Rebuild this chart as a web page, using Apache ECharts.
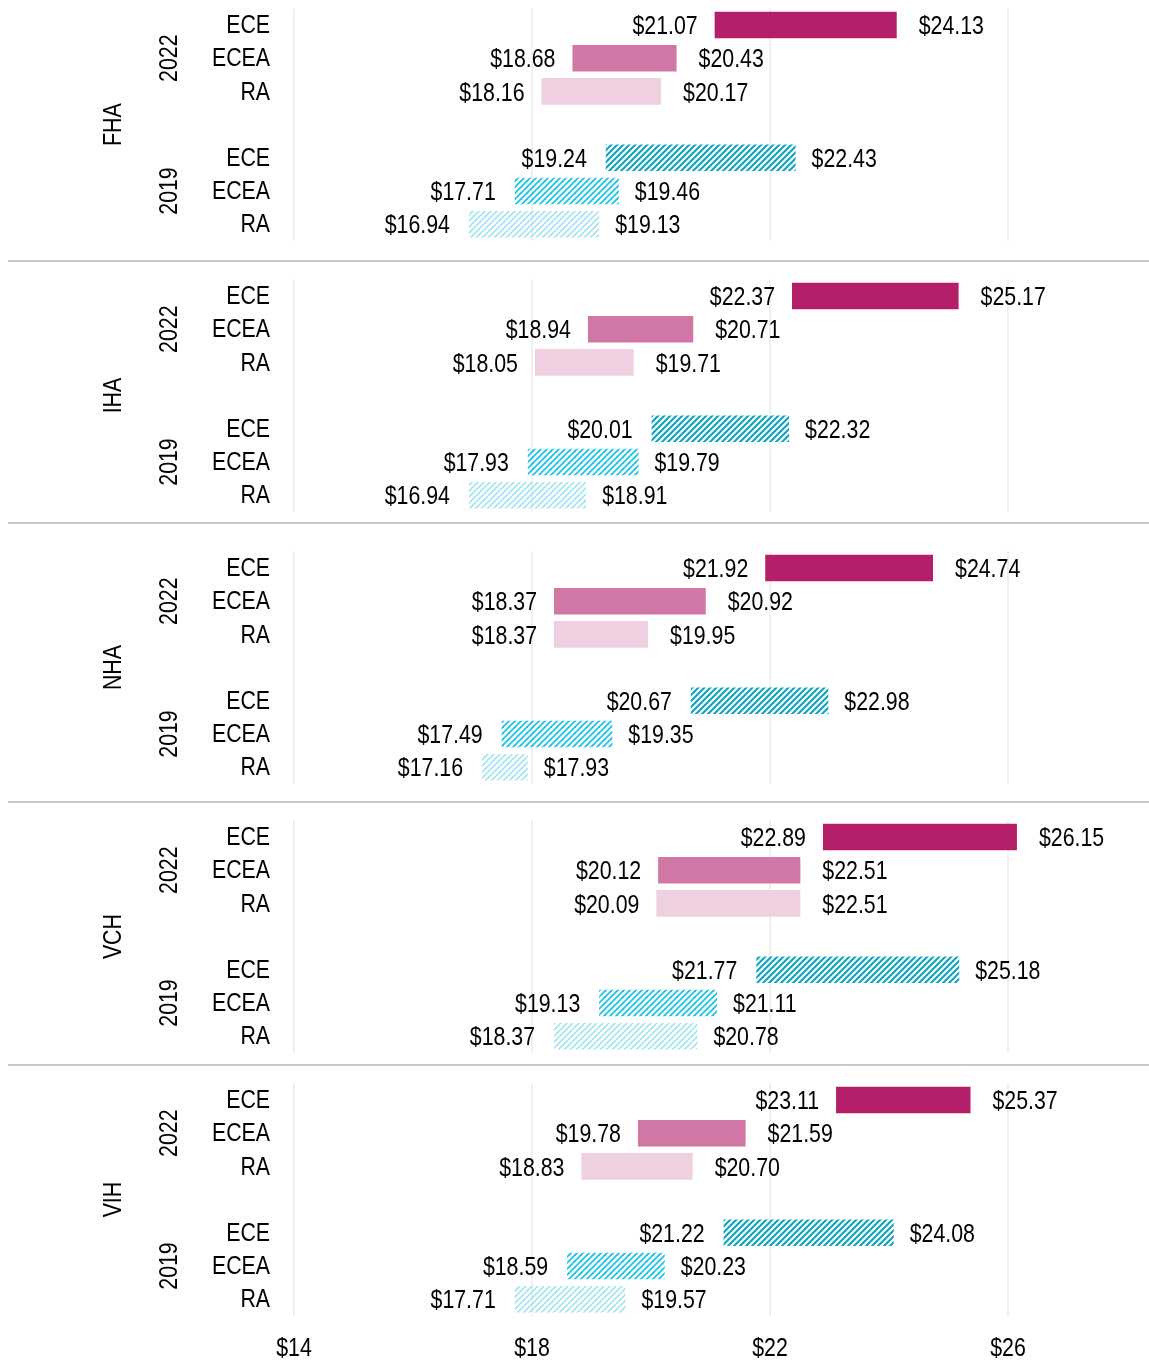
<!DOCTYPE html>
<html>
<head>
<meta charset="utf-8">
<script src="https://cdn.jsdelivr.net/npm/echarts@6/dist/echarts.min.js"></script>
<style>
  html, body { margin: 0; padding: 0; background: #fff; }
  #chart { width: 1149px; height: 1361px; }
</style>
</head>
<body>
<div id="chart"></div>
<script>
// regions (one panel each), years and measures
const panels = ["FHA", "IHA", "NHA", "VCH", "VIH"];
const years = ["2022", "2019"];
const measures = ["ECE", "ECEA", "RA"];

// low / high wage per region, same order as panels
const ece2022Low = [21.07, 22.37, 21.92, 22.89, 23.11];
const ece2022High = [24.13, 25.17, 24.74, 26.15, 25.37];
const ecea2022Low = [18.68, 18.94, 18.37, 20.12, 19.78];
const ecea2022High = [20.43, 20.71, 20.92, 22.51, 21.59];
const ra2022Low = [18.16, 18.05, 18.37, 20.09, 18.83];
const ra2022High = [20.17, 19.71, 19.95, 22.51, 20.70];

const ece2019Low = [19.24, 20.01, 20.67, 21.77, 21.22];
const ece2019High = [22.43, 22.32, 22.98, 25.18, 24.08];
const ecea2019Low = [17.71, 17.93, 17.49, 19.13, 18.59];
const ecea2019High = [19.46, 19.79, 19.35, 21.11, 20.23];
const ra2019Low = [16.94, 16.94, 17.16, 18.37, 17.71];
const ra2019High = [19.13, 18.91, 17.93, 20.78, 19.57];

const xTicks = [14, 18, 22, 26];

// ---- layout / style ----
// no narrow font installed, so Liberation Sans squeezed sideways stands in for Arial Narrow
const FONT = '"Liberation Sans", Arial, sans-serif';
const FS = 26;
const NARROW = 0.82;
const panelTop = [8.4, 279.4, 551.4, 820.4, 1083.4];
const panelHeight = 232.4;
const separatorY = [261, 523, 802, 1065];
const gridLeft = 294;
const gridRight = 22;

// rows of one panel: 3 bars for 2022, an empty row, 3 bars for 2019
const rowKeys = [];
years.forEach((y, yi) => {
    measures.forEach(m => rowKeys.push(m + "-" + y));
    if (yi === 0) rowKeys.push("gap");
});

const hatch = (color, lw) => {
    const c = document.createElement("canvas");
    c.width = 6;
    c.height = 6;
    const ctx = c.getContext("2d");
    ctx.strokeStyle = color;
    ctx.lineWidth = lw;
    for (const o of [-6, 0, 6]) {
        ctx.beginPath();
        ctx.moveTo(o - 1, 7);
        ctx.lineTo(o + 7, -1);
        ctx.stroke();
    }
    return { type: "pattern", image: c, repeat: "repeat" };
};

const rowFill = {
    "ECE-2022": "#b41f6a",
    "ECEA-2022": "#d177a6",
    "RA-2022": "#eed0e0",
    "ECE-2019": hatch("#10a3c1", 2.1),
    "ECEA-2019": hatch("#1cc2e8", 1.8),
    "RA-2019": hatch("#a4e3f2", 1.6)
};

const pairs = {
    "ECE-2022": [ece2022Low, ece2022High],
    "ECEA-2022": [ecea2022Low, ecea2022High],
    "RA-2022": [ra2022Low, ra2022High],
    "ECE-2019": [ece2019Low, ece2019High],
    "ECEA-2019": [ecea2019Low, ecea2019High],
    "RA-2019": [ra2019Low, ra2019High]
};

const panelData = pi =>
    rowKeys.filter(k => k !== "gap").map(k => [pairs[k][0][pi], pairs[k][1][pi], k]);

const label = (text, x, y, align, vAlign, rotation) => ({
    type: "text",
    x: x,
    y: y,
    rotation: rotation || 0,
    scaleX: NARROW,
    style: {
        text: text,
        x: 0,
        y: 0,
        align: align,
        verticalAlign: vAlign,
        fontSize: FS,
        fontFamily: FONT,
        fill: "#000"
    }
});

const renderBar = (params, api) => {
    const lo = api.value(0);
    const hi = api.value(1);
    const row = api.value(2);
    const a = api.coord([lo, row]);
    const b = api.coord([hi, row]);
    const h = api.size([0, 1])[1] * 0.8;
    const older = row > 3;
    return {
        type: "group",
        children: [
            {
                type: "rect",
                shape: { x: a[0], y: a[1] - h / 2, width: b[0] - a[0], height: h },
                style: { fill: rowFill[rowKeys[row]] }
            },
            label("$" + lo.toFixed(2), a[0] - (older ? 19 : 17), a[1] + 2, "right", "middle"),
            label("$" + hi.toFixed(2), b[0] + (older ? 16 : 22), a[1] + 2, "left", "middle")
        ]
    };
};

// row labels: measure, year (on the middle row of each year) and region (on the gap row)
const makeRowLabels = pi => (params, api) => {
    const row = api.value(1);
    const p = api.coord([api.value(0), row]);
    const key = rowKeys[row];
    const kids = [];
    if (key !== "gap") kids.push(label(key.split("-")[0], p[0] - 24, p[1] + 1, "right", "middle"));
    if (row === 1 || row === 5) kids.push(label(years[row === 1 ? 0 : 1], p[0] - 111, p[1], "center", "bottom", Math.PI / 2));
    if (key === "gap") kids.push(label(panels[pi], p[0] - 167, p[1], "center", "bottom", Math.PI / 2));
    return { type: "group", children: kids };
};

// dollar tick labels under the last panel
const renderTick = (params, api) => {
    const p = api.coord([api.value(0), api.value(1)]);
    const band = api.size([0, 1])[1];
    return label("$" + api.value(0), p[0], p[1] + band / 2 + 33, "center", "middle");
};

const grid = [];
const xAxis = [];
const yAxis = [];
const series = [];

panels.forEach((p, i) => {
    grid.push({
        left: gridLeft,
        right: gridRight,
        top: panelTop[i],
        height: panelHeight,
        containLabel: false,
        outerBoundsMode: "none"
    });
    xAxis.push({
        gridIndex: i,
        type: "value",
        min: xTicks[0],
        max: 28,
        interval: xTicks[1] - xTicks[0],
        axisLine: { show: false },
        axisTick: { show: false },
        axisLabel: { show: false },
        splitLine: { show: true, showMaxLine: false, lineStyle: { color: "#ebebeb", width: 1.5 } }
    });
    yAxis.push({
        gridIndex: i,
        type: "category",
        inverse: true,
        data: rowKeys,
        axisLine: { show: false },
        axisTick: { show: false },
        axisLabel: { show: false },
        splitLine: { show: false }
    });
    series.push({
        type: "custom",
        xAxisIndex: i,
        yAxisIndex: i,
        encode: { x: [0, 1], y: 2 },
        renderItem: renderBar,
        data: panelData(i),
        silent: true
    });
    series.push({
        type: "custom",
        xAxisIndex: i,
        yAxisIndex: i,
        encode: { x: 0, y: 1 },
        renderItem: makeRowLabels(i),
        data: rowKeys.map(k => [xTicks[0], k]),
        silent: true
    });
    if (i === panels.length - 1) {
        series.push({
            type: "custom",
            xAxisIndex: i,
            yAxisIndex: i,
            encode: { x: 0, y: 1 },
            renderItem: renderTick,
            data: xTicks.map(v => [v, rowKeys[rowKeys.length - 1]]),
            silent: true
        });
    }
});

const chart = echarts.init(document.getElementById("chart"), null, { renderer: "canvas" });
chart.setOption({
    backgroundColor: "#fff",
    animation: false,
    grid: grid,
    xAxis: xAxis,
    yAxis: yAxis,
    series: series,
    graphic: separatorY.map(y => ({
        type: "line",
        shape: { x1: 8, y1: y, x2: 1149, y2: y },
        style: { stroke: "#c8c8c8", lineWidth: 2 },
        silent: true
    }))
});
</script>
</body>
</html>
